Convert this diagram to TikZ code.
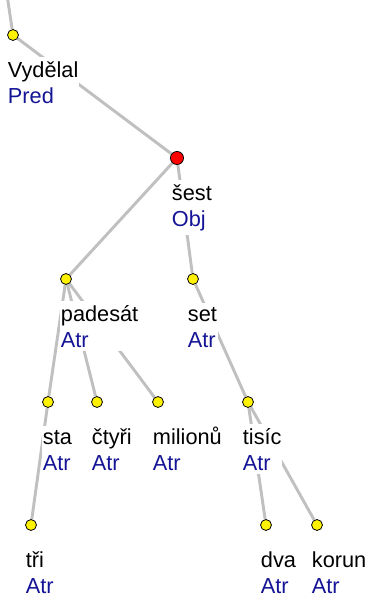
\documentclass[tikz,border=0pt]{standalone}
\usepackage{fontspec}
\setmainfont{Liberation Sans}
\usetikzlibrary{positioning, backgrounds}
\definecolor{afun}{RGB}{20,20,150}
\definecolor{edgegray}{RGB}{192,192,192}
\tikzset{
  dot/.style={circle, draw=black, line width=.6pt, fill=yellow, inner sep=0pt, minimum size=8.2pt},
  headdot/.style={dot, fill=red, minimum size=9.8pt},
  lbl/.style={fill=white, inner xsep=.5pt, inner ysep=3pt, align=left, anchor=base west,
    font=\fontsize{16.3}{19.5}\selectfont},
  edge/.style={draw=edgegray, line width=2.2pt},
}
\newcommand{\af}[1]{\textcolor{afun}{#1}}
\begin{document}
\begin{tikzpicture}[x=.75pt, y=-.75pt]
\useasboundingbox (0,0) rectangle (368,594);

% nodes
\coordinate (up) at (7.5,-2);
\node[dot] (vydelal) at (13,35) {};
\node[headdot] (sest) at (177,158) {};
\node[dot] (padesat) at (66,279) {};
\node[dot] (set) at (193,279) {};
\node[dot] (sta) at (48,402) {};
\node[dot] (ctyri) at (97,402) {};
\node[dot] (milionu) at (158,402) {};
\node[dot] (tisic) at (248,402) {};
\node[dot] (tri) at (31,525) {};
\node[dot] (dva) at (266,525) {};
\node[dot] (korun) at (317,525) {};

% edges
\begin{scope}[on background layer]
\draw[edge] (up) -- (vydelal);
\draw[edge] (vydelal) -- (sest);
\draw[edge] (sest) -- (padesat);
\draw[edge] (sest) -- (set);
\draw[edge] (padesat) -- (sta);
\draw[edge] (padesat) -- (ctyri);
\draw[edge] (padesat) -- (milionu);
\draw[edge] (sta) -- (tri);
\draw[edge] (set) -- (tisic);
\draw[edge] (tisic) -- (dva);
\draw[edge] (tisic) -- (korun);
\end{scope}

% labels (base = second line)
\node[lbl] (vydelal-l) at ([shift={(-6,68)}]vydelal.center) {Vydělal\\\af{Pred}};
\node[lbl] (sest-l) at ([shift={(-6,68)}]sest.center) {šest\\\af{Obj}};
\node[lbl] (padesat-l) at ([shift={(-6,68)}]padesat.center) {padesát\\\af{Atr}};
\node[lbl] (set-l) at ([shift={(-6,68)}]set.center) {set\\\af{Atr}};
\node[lbl] (sta-l) at ([shift={(-6,68)}]sta.center) {sta\\\af{Atr}};
\node[lbl] (ctyri-l) at ([shift={(-6,68)}]ctyri.center) {čtyři\\\af{Atr}};
\node[lbl] (milionu-l) at ([shift={(-6,68)}]milionu.center) {milionů\\\af{Atr}};
\node[lbl] (tisic-l) at ([shift={(-6,68)}]tisic.center) {tisíc\\\af{Atr}};
\node[lbl] (tri-l) at ([shift={(-6,68)}]tri.center) {tři\\\af{Atr}};
\node[lbl] (dva-l) at ([shift={(-6,68)}]dva.center) {dva\\\af{Atr}};
\node[lbl] (korun-l) at ([shift={(-6,68)}]korun.center) {korun\\\af{Atr}};
\end{tikzpicture}
\end{document}
